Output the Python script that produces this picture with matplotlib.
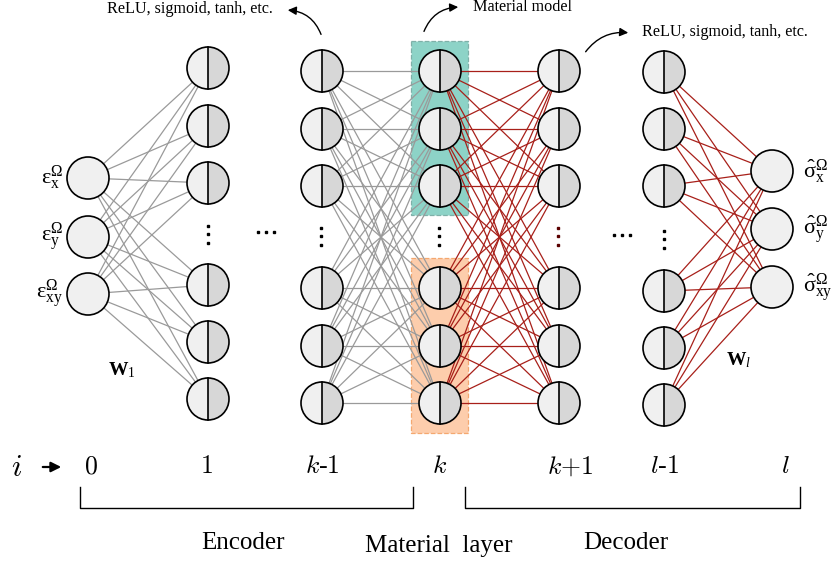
import matplotlib
matplotlib.use("Agg")
import matplotlib.pyplot as plt
from matplotlib.patches import Circle, Wedge, Rectangle, FancyArrowPatch

plt.rcParams['mathtext.fontset'] = 'custom'
plt.rcParams['mathtext.rm'] = 'Liberation Serif'
plt.rcParams['mathtext.it'] = 'Liberation Serif:italic'
plt.rcParams['mathtext.bf'] = 'Liberation Serif:bold'
SERIF = 'Liberation Serif'

# layer labels (bottom row) and node layout of the network
layer_names = ['$0$', '$1$', '$k$-$1$', '$k$', '$k{+}1$', '$l$-$1$', '$l$']
layer_x = [88, 208, 322, 440, 559, 664, 772]
hidden_y = [71, 129, 186, 288, 346, 403]
layer1_y = [68, 126, 183, 285, 342, 399]
lm1_y = [72, 129, 186, 291, 348, 405]
input_y = [178, 237, 294]
output_y = [171, 229, 287]
layer_nodes = [input_y, layer1_y, hidden_y, hidden_y, hidden_y, lm1_y, output_y]

input_labels = [r'$\mathrm{ε}_{\mathrm{x}}^{\mathrm{Ω}}$',
                r'$\mathrm{ε}_{\mathrm{y}}^{\mathrm{Ω}}$',
                r'$\mathrm{ε}_{\mathrm{xy}}^{\mathrm{Ω}}$']
output_labels = [r'$\hat{\mathrm{σ}}_{\mathrm{x}}^{\mathrm{Ω}}$',
                 r'$\hat{\mathrm{σ}}_{\mathrm{y}}^{\mathrm{Ω}}$',
                 r'$\hat{\mathrm{σ}}_{\mathrm{xy}}^{\mathrm{Ω}}$']

# which consecutive layers are fully connected, and with which colour
links = [(0, 1, '#9a9a9a'), (2, 3, '#9a9a9a'), (3, 4, '#a8201a'), (5, 6, '#a8201a')]

R = 21

fig = plt.figure(figsize=(8.34, 5.66), dpi=100)
ax = fig.add_axes([0, 0, 1, 1])
ax.set_xlim(0, 834)
ax.set_ylim(566, 0)
ax.axis('off')

# material layer boxes
ax.add_patch(Rectangle((411, 41), 57, 174, fc='#8dd3c7', ec='#7fb0a8',
                       ls='--', lw=0.9, zorder=1))
ax.add_patch(Rectangle((411, 258), 57, 175, fc='#fdcdac', ec='#f4a870',
                       ls='--', lw=0.9, zorder=1))

# connections
for a, b, col in links:
    for ya in layer_nodes[a]:
        for yb in layer_nodes[b]:
            ax.plot([layer_x[a], layer_x[b]], [ya, yb], color=col, lw=0.9, zorder=2)


def split_node(x, y):
    ax.add_patch(Wedge((x, y), R, 90, 270, fc='#f0f0f0', ec='none', zorder=3))
    ax.add_patch(Wedge((x, y), R, -90, 90, fc='#d7d7d7', ec='none', zorder=3))
    ax.plot([x, x], [y - R, y + R], color='black', lw=1.2, zorder=4)
    ax.add_patch(Circle((x, y), R, fc='none', ec='black', lw=1.2, zorder=4))


for i, ys in enumerate(layer_nodes):
    for y in ys:
        if i in (0, 6):
            ax.add_patch(Circle((layer_x[i], y), R, fc='#f0f0f0', ec='black',
                                lw=1.2, zorder=3))
        else:
            split_node(layer_x[i], y)

# vertical and horizontal ellipses
vdots = [(208, 234, 'black'), (321, 236, 'black'), (439, 236, 'black'),
         (558, 236, '#5a0000'), (664, 239, 'black')]
for x, y, col in vdots:
    ax.plot([x] * 3, [y - 8.5, y, y + 8.5], ls='none', marker='s', ms=2.1,
            color=col, zorder=5)
for x, y in [(266, 232), (622, 235)]:
    ax.plot([x - 8, x, x + 8], [y] * 3, ls='none', marker='s', ms=2.1,
            color='black', zorder=5)

# input / output labels
for y, lab in zip(input_y, input_labels):
    ax.text(63, y, lab, fontsize=16, ha='right', va='center', zorder=6)
for y, lab in zip(output_y, output_labels):
    ax.text(803, y, lab, fontsize=16, ha='left', va='center', zorder=6)

ax.text(108, 370, r'$\mathbf{W}_{1}$', fontsize=14, ha='left', va='center')
ax.text(726, 360, r'$\mathbf{W}_{\mathit{l}}$', fontsize=14, ha='left', va='center')

# annotations with curved arrows
ax.text(107, 9, 'ReLU, sigmoid, tanh, etc.', family=SERIF, fontsize=11.6,
        ha='left', va='center')
ax.text(473, 7, 'Material model', family=SERIF, fontsize=11.6, ha='left', va='center')
ax.text(642, 32, 'ReLU, sigmoid, tanh, etc.', family=SERIF, fontsize=11.6,
        ha='left', va='center')
arrows = [((322, 37), (285, 10), 0.35), ((423, 34), (461, 7), -0.35),
          ((584, 54), (631, 33), -0.3)]
for start, end, rad in arrows:
    ax.add_patch(FancyArrowPatch(start, end, connectionstyle='arc3,rad=%s' % rad,
                                 arrowstyle='-|>,head_length=5,head_width=2.5',
                                 color='black', lw=1.0, zorder=6))

# layer index row
ax.text(17, 467, '$i$', fontsize=22, ha='center', va='center', math_fontfamily='cm')
ax.add_patch(FancyArrowPatch((40, 467), (64, 467), arrowstyle='-|>,head_length=6,head_width=3',
                             color='black', lw=1.6))
label_x = [91, 206, 322, 440, 570, 665, 785]
for x, lab in zip(label_x, layer_names):
    ax.text(x, 467, lab, fontsize=18.5, ha='center', va='center', family=SERIF,
            math_fontfamily='cm')

# encoder / decoder brackets
for x0, x1 in [(80, 413), (465, 800)]:
    ax.plot([x0, x0, x1, x1], [487, 508, 508, 487], color='black', lw=1.0)
ax.text(243, 543, 'Encoder', family=SERIF, fontsize=18, ha='center', va='center')
ax.text(439, 546, 'Material  layer', family=SERIF, fontsize=18, ha='center', va='center')
ax.text(626, 543, 'Decoder', family=SERIF, fontsize=18, ha='center', va='center')

fig.savefig('out.png', dpi=100)
